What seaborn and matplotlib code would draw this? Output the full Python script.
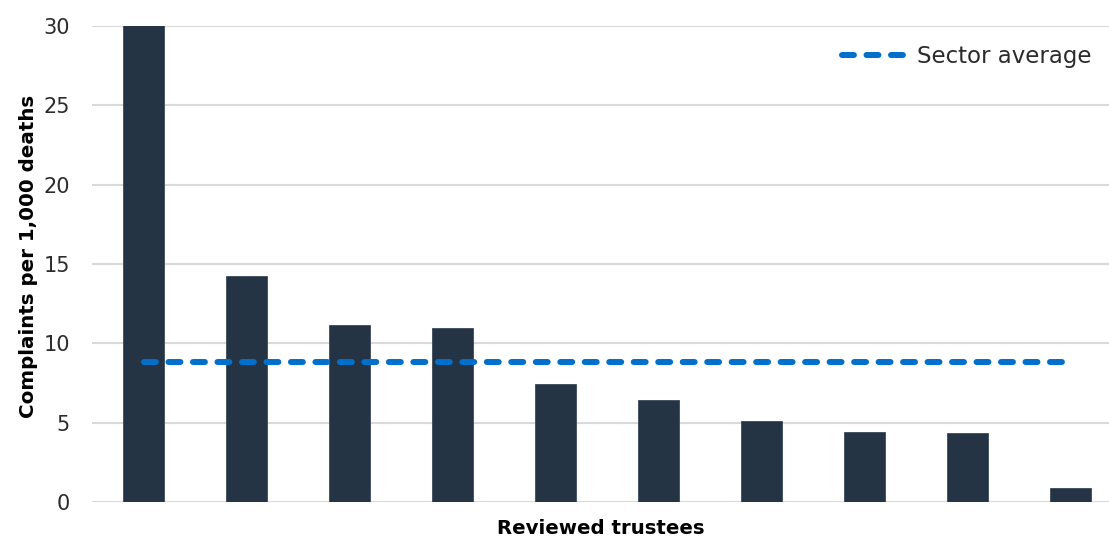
import matplotlib
matplotlib.use("Agg")
import matplotlib.pyplot as plt
import seaborn as sns
import pandas as pd

# Complaints per 1,000 deaths for each reviewed trustee, highest first
trustees = [f"T{i}" for i in range(1, 11)]
complaints_per_1000 = [30.05, 14.24, 11.15, 10.98, 7.43, 6.43, 5.09, 4.39, 4.32, 0.86]
sector_average = 8.8

y_ticks = [0, 5, 10, 15, 20, 25, 30]
y_label = "Complaints per 1,000 deaths"
x_label = "Reviewed trustees"
legend_label = "Sector average"

bar_color = "#243444"
avg_color = "#0070CC"
grid_color = "#D9D9D9"

sns.set_theme(style="white")
plt.rcParams["font.family"] = ["DejaVu Sans"]

df = pd.DataFrame({"trustee": trustees, "rate": complaints_per_1000})

fig = plt.figure(figsize=(11.09, 5.38), dpi=100)
ax = fig.add_axes([0.083, 0.067, 0.917, 0.885])

sns.barplot(data=df, x="trustee", y="rate", color=bar_color, width=0.4,
            saturation=1, edgecolor="#3a4a5a", linewidth=0.6, ax=ax, zorder=3)

# Sector average drawn across the category positions
positions = list(range(len(trustees)))
ax.plot([positions[0], positions[-1]], [sector_average, sector_average],
        color=avg_color, linewidth=4.3, linestyle=(0, (2.0, 2.1)),
        dash_capstyle="round", zorder=4, label=legend_label)

ax.set_ylim(0, 30)
ax.set_xlim(-0.5, 9.375)
ax.set_yticks(y_ticks)
ax.set_yticklabels([str(t) for t in y_ticks], fontsize=15, color="#2b2b2b")
ax.set_xticks([])
ax.yaxis.grid(True, color=grid_color, linewidth=1.5, zorder=0)
ax.set_axisbelow(True)
ax.tick_params(axis="y", length=0, pad=16)

for s in ax.spines.values():
    s.set_visible(False)

ax.set_ylabel(y_label, fontsize=14.3, fontweight="bold", color="black")
ax.yaxis.set_label_coords(-0.053, 0.515)
ax.set_xlabel(x_label, fontsize=14.2, fontweight="bold", color="black", labelpad=12)

leg = ax.legend(loc="upper right", frameon=False, fontsize=16.5, handlelength=2.8,
                handletextpad=0.45, bbox_to_anchor=(1.003, 1.003))
for t in leg.get_texts():
    t.set_color("#2b2b2b")

fig.savefig("out.png", dpi=100)
